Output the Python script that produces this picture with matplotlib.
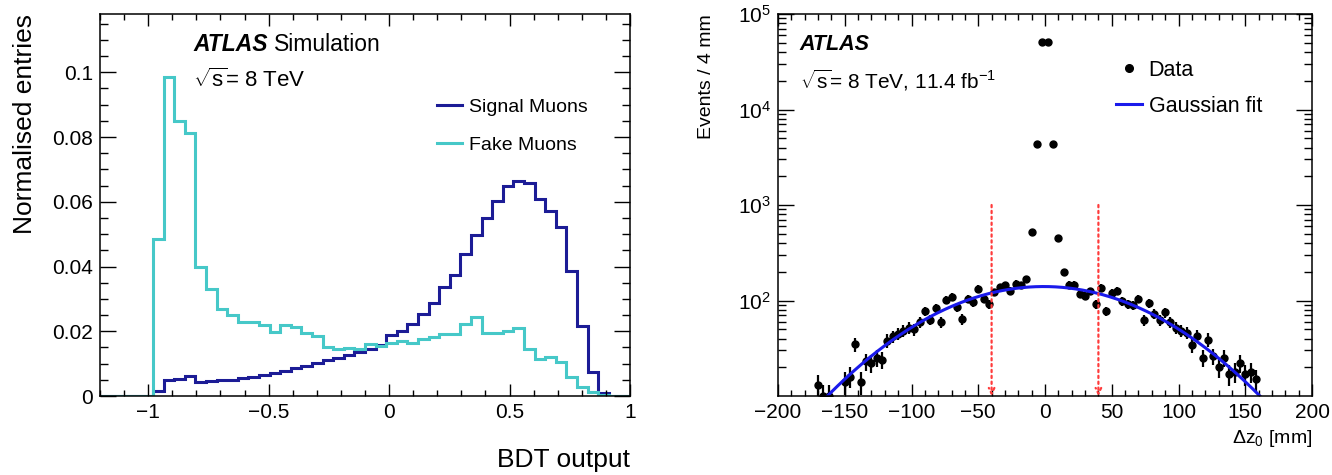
import numpy as np
import matplotlib
matplotlib.use("Agg")
import matplotlib.pyplot as plt
from matplotlib.ticker import FixedLocator, MultipleLocator, LogLocator, NullFormatter

# Left panel: BDT output, 50 bins from -1.2 to 1.0
bdt_range = (-1.2, 1.0)
bdt_nbins = 50
signal_muons = [0, 0, 0, 0, 0,
                0.0015, 0.0048, 0.0053, 0.0063, 0.0043, 0.0046, 0.0048, 0.0050, 0.0055, 0.0060,
                0.0066, 0.0072, 0.0078, 0.0086, 0.0094, 0.0102, 0.0110, 0.0118, 0.0127, 0.0137,
                0.0146, 0.0156, 0.0187, 0.0202, 0.0221, 0.0252, 0.0286, 0.0336, 0.0375, 0.0439,
                0.0498, 0.0550, 0.0603, 0.0650, 0.0663, 0.0657, 0.0609, 0.0573, 0.0521, 0.0387,
                0.0215, 0.0073, 0.0009, 0, 0]
fake_muons = [0, 0, 0, 0, 0,
              0.0485, 0.0984, 0.0850, 0.0811, 0.0398, 0.0331, 0.0269, 0.0251, 0.0230, 0.0228,
              0.0218, 0.0199, 0.0220, 0.0212, 0.0195, 0.0185, 0.0151, 0.0146, 0.0148, 0.0144,
              0.0161, 0.0154, 0.0164, 0.0171, 0.0164, 0.0177, 0.0181, 0.0190, 0.0190, 0.0221,
              0.0243, 0.0194, 0.0196, 0.0200, 0.0209, 0.0146, 0.0115, 0.0120, 0.0104, 0.0060,
              0.0027, 0.0012, 0.0004, 0, 0]
bdt_xticks = [-1, -0.5, 0, 0.5, 1]
bdt_xticklabels = ["\u22121", "\u22120.5", "0", "0.5", "1"]
bdt_yticks = [0, 0.02, 0.04, 0.06, 0.08, 0.1]
bdt_yticklabels = ["0", "0.02", "0.04", "0.06", "0.08", "0.1"]

# Right panel: delta z0, 4 mm bins (bin centres)
dz_centres = [-170, -166, -162, -150, -146, -142, -138, -134, -130, -126, -122, -118, -114,
              -110, -106, -102, -98, -94, -90, -86, -82, -78, -74, -70, -66, -62, -58, -54,
              -50, -46, -42, -38, -34, -30, -26, -22, -18, -14, -10, -6, -2,
              2, 6, 10, 14, 18, 22, 26, 30, 34, 38, 42, 46, 50, 54, 58, 62, 66, 70, 74, 78,
              82, 86, 90, 94, 98, 102, 106, 110, 114, 118, 122, 126, 130, 134, 138, 142, 146,
              150, 154, 158]
dz_counts = [13, 10, 10, 14, 16, 35, 14, 23, 22, 25, 24, 38, 42,
             45, 48, 52, 50, 59, 77, 63, 83, 59, 102, 110, 85, 64, 104, 96,
             133, 104, 91, 122, 138, 144, 127, 150, 144, 169, 524, 4385, 51000,
             51000, 4385, 446, 198, 147, 147, 118, 111, 125, 92, 136, 77, 120, 127, 98, 91, 89, 104, 62, 94,
             73, 62, 75, 59, 52, 48, 46, 34, 43, 25, 39, 26, 20, 25, 17, 18, 22,
             17, 18, 15]
# Gaussian fit parameters (amplitude, mean, sigma)
fit_amp, fit_mean, fit_sigma = 140.0, -1.0, 70.5
cut_values = [-40, 40]
dz_xticks = [-200, -150, -100, -50, 0, 50, 100, 150, 200]
dz_xticklabels = ["\u2212200", "\u2212150", "\u2212100", "\u221250", "0", "50", "100", "150", "200"]

plt.rcParams["font.family"] = ["Liberation Sans", "DejaVu Sans"]
plt.rcParams["mathtext.fontset"] = "custom"
plt.rcParams["mathtext.rm"] = "Liberation Sans"
plt.rcParams["mathtext.it"] = "Liberation Sans:italic"
plt.rcParams["mathtext.bf"] = "Liberation Sans:bold"

navy = "#1c1c96"
cyan = "#46c8c8"

fig = plt.figure(figsize=(13.32, 4.75), dpi=100)
W, H = 1332.0, 475.0
ax1 = fig.add_axes([100 / W, 79 / H, 530 / W, 382 / H])
ax2 = fig.add_axes([778 / W, 79 / H, 534 / W, 382 / H])

for ax in (ax1, ax2):
    for sp in ax.spines.values():
        sp.set_linewidth(1.1)
    ax.tick_params(which="both", direction="in", top=True, right=True, width=1.0,
                   labelsize=15, pad=5)
    ax.tick_params(axis="x", which="major", length=8.3)
    ax.tick_params(axis="x", which="minor", length=4.3)
    ax.tick_params(axis="y", which="major", length=11.5)
    ax.tick_params(axis="y", which="minor", length=5.8)

# ---- left panel ----
edges = np.linspace(bdt_range[0], bdt_range[1], bdt_nbins + 1)
ax1.stairs(signal_muons, edges, color=navy, lw=2.2, label="Signal Muons")
ax1.stairs(fake_muons, edges, color=cyan, lw=2.2, label="Fake Muons")
ax1.set_xlim(*bdt_range)
ax1.set_ylim(0, 0.118)
ax1.xaxis.set_major_locator(FixedLocator(bdt_xticks))
ax1.set_xticklabels(bdt_xticklabels)
ax1.xaxis.set_minor_locator(MultipleLocator(0.1))
ax1.yaxis.set_major_locator(FixedLocator(bdt_yticks))
ax1.set_yticklabels(bdt_yticklabels)
ax1.yaxis.set_minor_locator(MultipleLocator(0.005))

ax1.set_xlabel("BDT output", fontsize=19, loc="right")
ax1.xaxis.set_label_coords(1.0, -0.135)
ax1.set_ylabel("Normalised entries", fontsize=19, loc="top")
ax1.yaxis.set_label_coords(-0.118, 1.0)

ax1.text(0.1755, 0.921, "ATLAS", transform=ax1.transAxes, fontsize=16.5,
         fontweight="bold", fontstyle="italic", va="center", ha="left")
ax1.text(0.328, 0.921, "Simulation", transform=ax1.transAxes, fontsize=16.5,
         va="center", ha="left")
ax1.text(0.1755, 0.827, r"$\sqrt{\mathrm{s}}$= 8 TeV", transform=ax1.transAxes, fontsize=16,
         va="center", ha="left")
ax1.legend(loc="upper left", bbox_to_anchor=(0.636, 0.78), frameon=False, fontsize=14,
           handlelength=1.3, handletextpad=0.36, labelspacing=1.05, borderpad=0,
           borderaxespad=0)

# ---- right panel ----
dz_x = np.array(dz_centres, dtype=float)
dz_y = np.array(dz_counts, dtype=float)
# Poisson errors on the counts
ax2.errorbar(dz_x, dz_y, yerr=np.sqrt(dz_y), fmt="none", ecolor="black", elinewidth=1.6)
ax2.plot(dz_x, dz_y, "o", color="black", ms=5, label="Data")
xf = np.linspace(-200, 200, 801)
ax2.plot(xf, fit_amp * np.exp(-0.5 * ((xf - fit_mean) / fit_sigma) ** 2), color="#1a1aeb",
         lw=2.2, label="Gaussian fit")
for c in cut_values:
    ax2.annotate("", xy=(c, 10), xytext=(c, 1000),
                 arrowprops=dict(arrowstyle="->,head_length=0.4,head_width=0.2", color="#ff3b3b",
                                 lw=1.6, linestyle=":", shrinkA=0, shrinkB=0))
ax2.set_yscale("log")
ax2.set_xlim(-200, 200)
ax2.set_ylim(10, 1e5)
ax2.xaxis.set_major_locator(FixedLocator(dz_xticks))
ax2.set_xticklabels(dz_xticklabels)
ax2.xaxis.set_minor_locator(MultipleLocator(10))
ax2.yaxis.set_major_locator(FixedLocator([1e2, 1e3, 1e4, 1e5]))
ax2.set_yticklabels([r"$10^{2}$", r"$10^{3}$", r"$10^{4}$", r"$10^{5}$"])
ax2.yaxis.set_minor_locator(LogLocator(base=10, subs=np.arange(2, 10)))
ax2.yaxis.set_minor_formatter(NullFormatter())

ax2.set_xlabel(r"$\Delta$z$_{0}$ [mm]", fontsize=14, loc="right")
ax2.xaxis.set_label_coords(1.0, -0.085)
ax2.set_ylabel("Events / 4 mm", fontsize=14, loc="top")
ax2.yaxis.set_label_coords(-0.118, 1.0)

ax2.text(0.041, 0.921, "ATLAS", transform=ax2.transAxes, fontsize=15.5,
         fontweight="bold", fontstyle="italic", va="center", ha="left")
ax2.text(0.041, 0.827, r"$\sqrt{\mathrm{s}}$= 8 TeV, 11.4 fb$^{-1}$", transform=ax2.transAxes,
         fontsize=15, va="center", ha="left")
ax2.legend(loc="upper left", bbox_to_anchor=(0.633, 0.88), frameon=False, fontsize=15.5,
           handlelength=1.2, handletextpad=0.32, labelspacing=0.7, borderpad=0,
           borderaxespad=0, markerscale=1.1)

fig.savefig("out.png", dpi=100)
